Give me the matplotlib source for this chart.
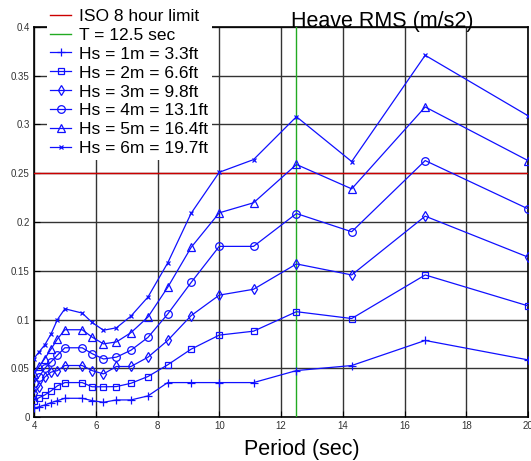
import numpy as np
import matplotlib.pyplot as plt

plt.rcParams['font.family'] = ['Liberation Sans', 'DejaVu Sans']

period = [4.0, 4.17, 4.35, 4.55, 4.76, 5.0, 5.56, 5.88, 6.25, 6.67,
          7.14, 7.69, 8.33, 9.09, 10.0, 11.11, 12.5, 14.29, 16.67, 20.0]

hs1 = [0.009, 0.0106, 0.0123, 0.0147, 0.0168, 0.0192, 0.0192, 0.0168, 0.0151, 0.0175,
       0.0175, 0.0216, 0.0353, 0.0353, 0.0353, 0.0353, 0.0476, 0.0528, 0.0785, 0.0586]
hs2 = [0.0168, 0.0199, 0.0226, 0.0267, 0.032, 0.0353, 0.0353, 0.031, 0.031, 0.0312,
       0.0346, 0.0415, 0.0535, 0.0696, 0.084, 0.088, 0.108, 0.101, 0.1457, 0.114]
hs3 = [0.0243, 0.031, 0.041, 0.046, 0.0476, 0.0528, 0.0528, 0.0476, 0.0442, 0.0518,
       0.0518, 0.0613, 0.0785, 0.104, 0.125, 0.131, 0.157, 0.1457, 0.206, 0.164]
hs4 = [0.0346, 0.0415, 0.05, 0.0565, 0.0635, 0.071, 0.071, 0.065, 0.0595, 0.0614,
       0.0685, 0.0816, 0.1056, 0.138, 0.175, 0.175, 0.2087, 0.19, 0.263, 0.2135]
hs5 = [0.044, 0.052, 0.06, 0.0696, 0.08, 0.0895, 0.0895, 0.082, 0.075, 0.077,
       0.0865, 0.1025, 0.133, 0.174, 0.2094, 0.2197, 0.259, 0.234, 0.318, 0.263]
hs6 = [0.06, 0.067, 0.074, 0.085, 0.1, 0.111, 0.1066, 0.097, 0.089, 0.0915,
       0.1035, 0.123, 0.158, 0.209, 0.251, 0.264, 0.308, 0.262, 0.371, 0.309]

series = [hs1, hs2, hs3, hs4, hs5, hs6]
labels = ['Hs = 1m = 3.3ft', 'Hs = 2m = 6.6ft', 'Hs = 3m = 9.8ft',
          'Hs = 4m = 13.1ft', 'Hs = 5m = 16.4ft', 'Hs = 6m = 19.7ft']
markers = ['+', 's', 'd', 'o', '^', 'x']
msizes = [6, 5, 5, 5.5, 5.5, 3]

iso_limit = 0.25
t_line = 12.5

fig = plt.figure(figsize=(5.31, 4.61), dpi=100)
ax = fig.add_axes([34 / 531, 1 - 417 / 461, 494 / 531, 390 / 461])

h_iso = ax.axhline(iso_limit, color='#cc0000', lw=1, zorder=3)
h_t = ax.axvline(t_line, color='#22aa22', lw=1, zorder=3)

handles = [h_iso, h_t]
for vals, lab, m, ms in zip(series, labels, markers, msizes):
    h, = ax.plot(period, vals, color='#1010ff', lw=0.9, marker=m, ms=ms,
                 mfc='none', mec='#1010ff', mew=0.9, zorder=4)
    handles.append(h)

ax.set_xlim(4, 20)
ax.set_ylim(0, 0.4)
ax.set_xticks(np.arange(4, 21, 2))
yt = np.arange(0, 0.401, 0.05)
ax.set_yticks(yt)
ax.set_yticklabels(['0', '0.05', '0.1', '0.15', '0.2', '0.25', '0.3', '0.35', '0.4'])
ax.tick_params(labelsize=7, length=4, direction='in', pad=3, labelcolor='#333333')
ax.grid(True, color='#333333', lw=1)
ax.set_axisbelow(True)
for s in ax.spines.values():
    s.set_linewidth(1.2)

fig.text(302 / 531, 1 - 455 / 461, 'Period (sec)', fontsize=15.5, ha='center', va='baseline')
fig.text(382 / 531, 1 - 27 / 461, 'Heave RMS (m/s2)', fontsize=15.5, ha='center', va='baseline')

leg_labels = ['ISO 8 hour limit', 'T = 12.5 sec'] + labels
leg = fig.legend(handles, leg_labels, loc='upper left', bbox_to_anchor=(47 / 531, 1 - 5 / 461),
                 fontsize=12.5, frameon=True, fancybox=False, edgecolor='none', framealpha=1,
                 handlelength=1.2, handletextpad=0.45, labelspacing=0.22, borderpad=0.2,
                 borderaxespad=0)
leg.set_zorder(10)

fig.savefig('out.png', dpi=100)
